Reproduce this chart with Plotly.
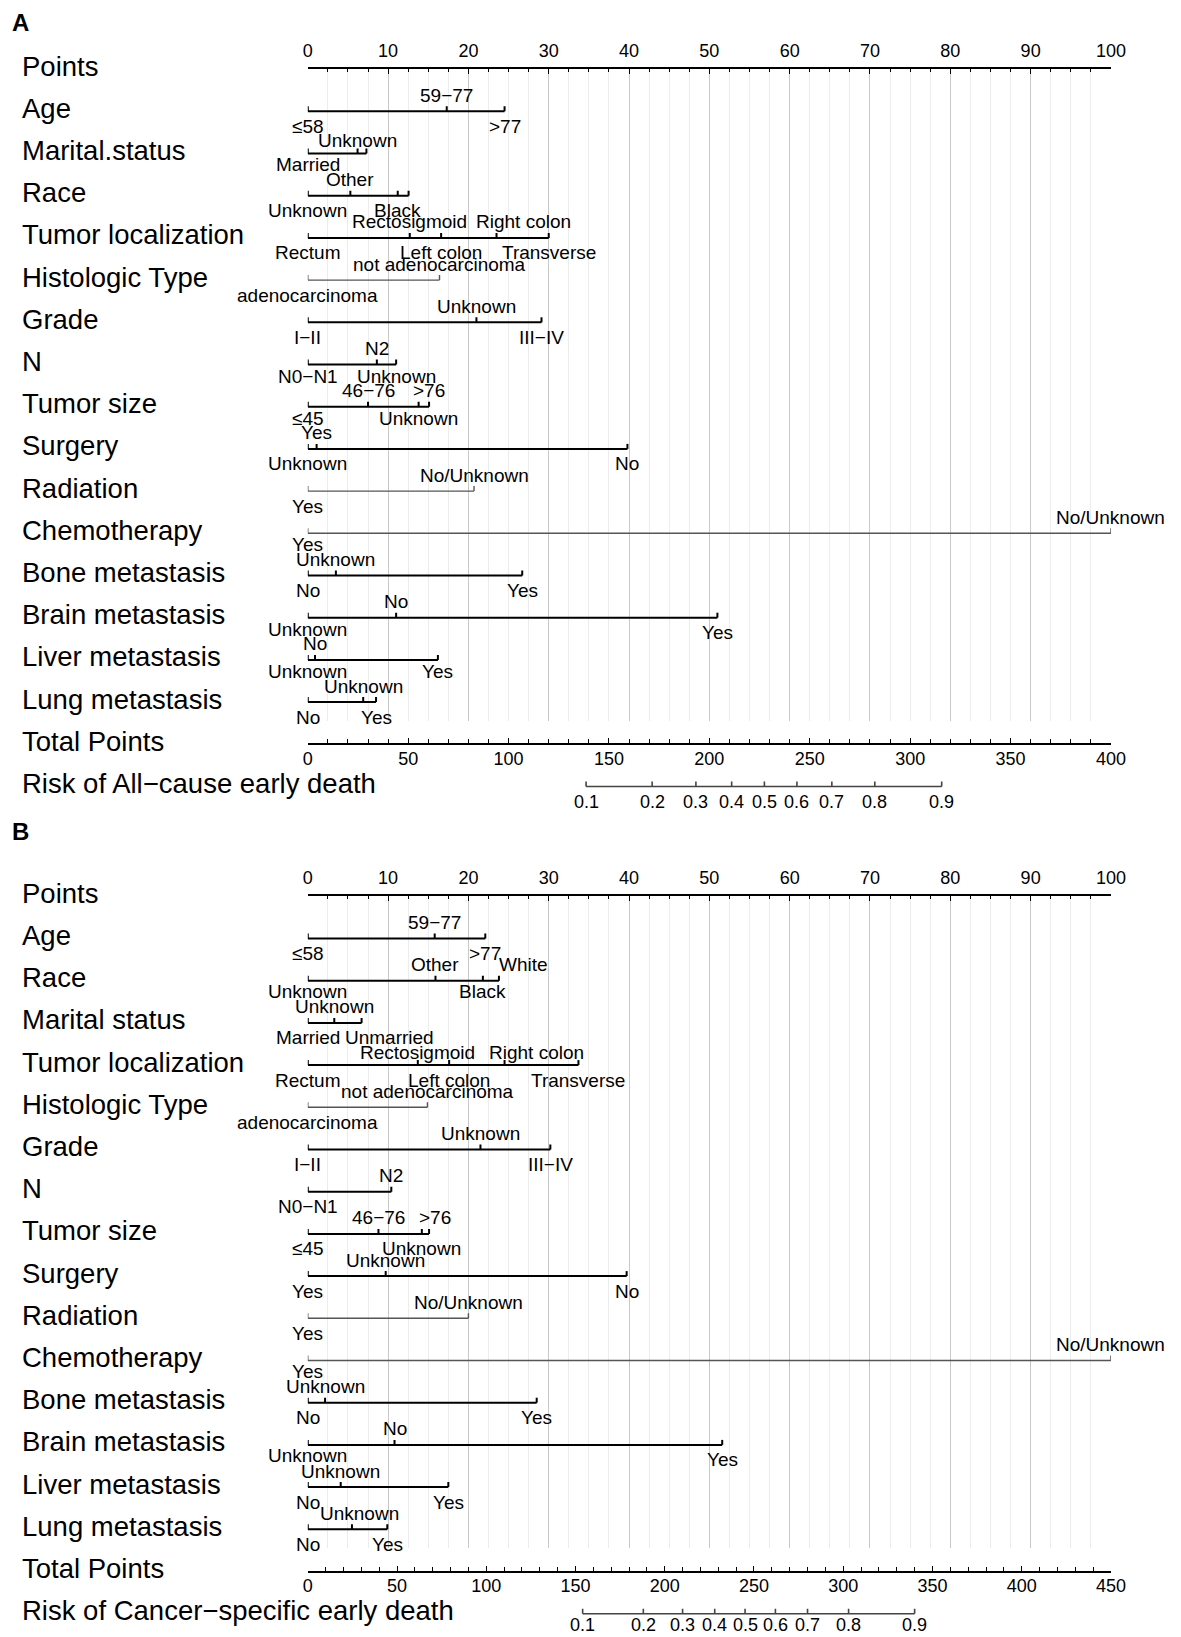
import plotly.graph_objects as go

W, H = 1181, 1637
FONT = "Liberation Sans, Arial, Helvetica, sans-serif"

# ------------------------- Panel A data -------------------------
A_RISK_TITLE = "Risk of All\u2212cause early death"
A_TOTAL_MAX = 400
A_RISK_LABELS = ["0.1", "0.2", "0.3", "0.4", "0.5", "0.6", "0.7", "0.8", "0.9"]
A_RISK_TOTAL = [138.6, 171.5, 193.3, 211.1, 227.4, 243.6, 261.0, 282.4, 315.7]

A_AGE_LV = ["\u226458", "59\u221277", ">77"]
A_AGE_PT = [0, 17.3, 24.5]
A_MARITAL_LV = ["Married", "Unknown", ""]
A_MARITAL_PT = [0, 6.2, 7.3]
A_RACE_LV = ["Unknown", "Other", "Black", ""]
A_RACE_PT = [0, 5.3, 11.2, 12.55]
A_LOC_LV = ["Rectum", "Rectosigmoid", "Left colon", "Right colon", "Transverse"]
A_LOC_PT = [0, 12.7, 16.6, 23.5, 30.0]
A_HIST_LV = ["adenocarcinoma", "not adenocarcinoma"]
A_HIST_PT = [0, 16.4]
A_GRADE_LV = ["I\u2212II", "Unknown", "III\u2212IV"]
A_GRADE_PT = [0, 21.0, 29.1]
A_N_LV = ["N0\u2212N1", "N2", "Unknown"]
A_N_PT = [0, 8.6, 11.0]
A_SIZE_LV = ["\u226445", "46\u221276", "Unknown", ">76"]
A_SIZE_PT = [0, 7.5, 13.8, 15.1]
A_SURG_LV = ["Unknown", "Yes", "No"]
A_SURG_PT = [0, 1.1, 39.8]
A_RAD_LV = ["Yes", "No/Unknown"]
A_RAD_PT = [0, 20.7]
A_CHEMO_LV = ["Yes", "No/Unknown"]
A_CHEMO_PT = [0, 100]
A_BONE_LV = ["No", "Unknown", "Yes"]
A_BONE_PT = [0, 3.5, 26.7]
A_BRAIN_LV = ["Unknown", "No", "Yes"]
A_BRAIN_PT = [0, 11.0, 51.0]
A_LIVER_LV = ["Unknown", "No", "Yes"]
A_LIVER_PT = [0, 0.9, 16.2]
A_LUNG_LV = ["No", "Unknown", "Yes"]
A_LUNG_PT = [0, 6.9, 8.5]

# ------------------------- Panel B data -------------------------
B_RISK_TITLE = "Risk of Cancer\u2212specific early death"
B_TOTAL_MAX = 450
B_RISK_LABELS = ["0.1", "0.2", "0.3", "0.4", "0.5", "0.6", "0.7", "0.8", "0.9"]
B_RISK_TOTAL = [154.0, 188.0, 210.0, 228.0, 245.0, 262.0, 280.0, 303.0, 340.0]

B_AGE_LV = ["\u226458", "59\u221277", ">77"]
B_AGE_PT = [0, 15.8, 22.1]
B_RACE_LV = ["Unknown", "Other", "Black", "White"]
B_RACE_PT = [0, 15.9, 21.8, 23.8]
B_MARITAL_LV = ["Married", "Unknown", "Unmarried"]
B_MARITAL_PT = [0, 3.3, 6.7]
B_LOC_LV = ["Rectum", "Rectosigmoid", "Left colon", "Right colon", "Transverse"]
B_LOC_PT = [0, 13.7, 17.6, 24.5, 33.7]
B_HIST_LV = ["adenocarcinoma", "not adenocarcinoma"]
B_HIST_PT = [0, 14.9]
B_GRADE_LV = ["I\u2212II", "Unknown", "III\u2212IV"]
B_GRADE_PT = [0, 21.5, 30.2]
B_N_LV = ["N0\u2212N1", "N2"]
B_N_PT = [0, 10.4]
B_SIZE_LV = ["\u226445", "46\u221276", "Unknown", ">76"]
B_SIZE_PT = [0, 8.8, 14.2, 15.1]
B_SURG_LV = ["Yes", "Unknown", "No"]
B_SURG_PT = [0, 9.7, 39.7]
B_RAD_LV = ["Yes", "No/Unknown"]
B_RAD_PT = [0, 20.0]
B_CHEMO_LV = ["Yes", "No/Unknown"]
B_CHEMO_PT = [0, 100]
B_BONE_LV = ["No", "Unknown", "Yes"]
B_BONE_PT = [0, 2.15, 28.5]
B_BRAIN_LV = ["Unknown", "No", "Yes"]
B_BRAIN_PT = [0, 10.8, 51.6]
B_LIVER_LV = ["No", "Unknown", "Yes"]
B_LIVER_PT = [0, 4.1, 17.5]
B_LUNG_LV = ["No", "Unknown", "Yes"]
B_LUNG_PT = [0, 5.5, 9.9]

# label placement per level: a = above line, b = below line, - = no label
A_ROWS = [
    ("Age", A_AGE_LV, A_AGE_PT, "bab"),
    ("Marital.status", A_MARITAL_LV, A_MARITAL_PT, "ba-"),
    ("Race", A_RACE_LV, A_RACE_PT, "bab-"),
    ("Tumor localization", A_LOC_LV, A_LOC_PT, "babab"),
    ("Histologic Type", A_HIST_LV, A_HIST_PT, "ba"),
    ("Grade", A_GRADE_LV, A_GRADE_PT, "bab"),
    ("N", A_N_LV, A_N_PT, "bab"),
    ("Tumor size", A_SIZE_LV, A_SIZE_PT, "baba"),
    ("Surgery", A_SURG_LV, A_SURG_PT, "bab"),
    ("Radiation", A_RAD_LV, A_RAD_PT, "ba"),
    ("Chemotherapy", A_CHEMO_LV, A_CHEMO_PT, "ba"),
    ("Bone metastasis", A_BONE_LV, A_BONE_PT, "bab"),
    ("Brain metastasis", A_BRAIN_LV, A_BRAIN_PT, "bab"),
    ("Liver metastasis", A_LIVER_LV, A_LIVER_PT, "bab"),
    ("Lung metastasis", A_LUNG_LV, A_LUNG_PT, "bab"),
]
B_ROWS = [
    ("Age", B_AGE_LV, B_AGE_PT, "bab"),
    ("Race", B_RACE_LV, B_RACE_PT, "baba"),
    ("Marital status", B_MARITAL_LV, B_MARITAL_PT, "bab"),
    ("Tumor localization", B_LOC_LV, B_LOC_PT, "babab"),
    ("Histologic Type", B_HIST_LV, B_HIST_PT, "ba"),
    ("Grade", B_GRADE_LV, B_GRADE_PT, "bab"),
    ("N", B_N_LV, B_N_PT, "ba"),
    ("Tumor size", B_SIZE_LV, B_SIZE_PT, "baba"),
    ("Surgery", B_SURG_LV, B_SURG_PT, "bab"),
    ("Radiation", B_RAD_LV, B_RAD_PT, "ba"),
    ("Chemotherapy", B_CHEMO_LV, B_CHEMO_PT, "ba"),
    ("Bone metastasis", B_BONE_LV, B_BONE_PT, "bab"),
    ("Brain metastasis", B_BRAIN_LV, B_BRAIN_PT, "bab"),
    ("Liver metastasis", B_LIVER_LV, B_LIVER_PT, "bab"),
    ("Lung metastasis", B_LUNG_LV, B_LUNG_PT, "bab"),
]

# ------------------------- styling / layout -------------------------
THIN_ROWS = {"Histologic Type", "Radiation", "Chemotherapy"}
# labels that the original figure moves sideways off their tick (points units)
LABEL_NUDGE = {
    ("A", "Tumor localization", "Right colon"): 3.4,
    ("B", "Tumor localization", "Right colon"): 4.0,
    ("B", "Race", "White"): 3.0,
    ("B", "Marital status", "Unmarried"): 3.5,
    ("B", "Tumor size", ">76"): 0.8,
    ("B", "Lung metastasis", "Unknown"): 0.9,
}
# labels that sit closer to their line than the default (vertical px shift)
LABEL_VSHIFT = {
    ("A", "Marital.status", "Married"): -11,
    ("A", "Marital.status", "Unknown"): 13,
    ("A", "N", "N0\u2212N1"): -12,
    ("A", "N", "Unknown"): -12,
    ("A", "Tumor size", "\u226445"): -12,
    ("A", "Tumor size", "Unknown"): -12,
    ("A", "Chemotherapy", "Yes"): -11,
    ("A", "Brain metastasis", "Unknown"): -12,
    ("A", "Liver metastasis", "Unknown"): -12,
    ("A", "Liver metastasis", "Yes"): -12,
    ("B", "Race", "Unknown"): -11,
    ("B", "Race", "Black"): -11,
    ("B", "Tumor localization", "Rectosigmoid"): 13,
    ("B", "Tumor localization", "Right colon"): 13,
    ("B", "Chemotherapy", "Yes"): -11,
    ("B", "Brain metastasis", "Unknown"): -11,
}

X0_PX, X1_PX = 308, 1125
ROW_H = 42.2
TICK_R = 5.0 / ROW_H
LABEL_X_PX = 15.5
ABOVE_SHIFT, BELOW_SHIFT = 16, -15

fig = go.Figure()
annotations = []
axes = {}


def axkey(a):
    return ("xaxis" if a[0] == "x" else "yaxis") + a[1:]


def build(letter, rows, total_max, risk_lab, risk_pos, risk_title, top_px, ids,
          letter_y, risk_shift):
    xa, ya, xb, yb = ids
    n = len(rows)
    last = n + 0.45
    bottom_r = n + 2.5

    def ypx(r):
        return top_px + r * ROW_H

    def pap(px):
        return max(0.0, 1 - px / H)

    dom_x = [X0_PX / W, X1_PX / W]
    tickfont = dict(size=18, family=FONT, color="black")
    axes[axkey(xa)] = dict(
        domain=dom_x, range=[-1e-6, 100 + 1e-6], anchor=ya, side="top",
        showline=True, linecolor="black", linewidth=2,
        ticks="inside", ticklen=5, tickwidth=1.3, tickcolor="black",
        tick0=0, dtick=10, tickfont=tickfont, ticklabelstandoff=3,
        showgrid=True, gridcolor="#c9c9c9", gridwidth=1.4, zeroline=False,
        minor=dict(tick0=0, dtick=2.5, ticks="inside", ticklen=3, tickwidth=1.1,
                   tickcolor="black", showgrid=True, gridcolor="#ececec", gridwidth=1),
        fixedrange=True,
    )
    axes[axkey(ya)] = dict(domain=[pap(ypx(last)), pap(ypx(0))], range=[last, 0],
                           visible=False, fixedrange=True)
    axes[axkey(xb)] = dict(
        domain=dom_x, range=[-1e-6, total_max + 1e-6], anchor="free",
        position=pap(ypx(n + 1)), side="bottom",
        showline=True, linecolor="black", linewidth=2,
        ticks="inside", ticklen=5, tickwidth=1.3, tickcolor="black",
        tick0=0, dtick=50, tickfont=tickfont, ticklabelstandoff=-2,
        showgrid=False, zeroline=False,
        minor=dict(tick0=0, dtick=10, ticks="inside", ticklen=4, tickwidth=1.1, tickcolor="black"),
        fixedrange=True,
    )
    axes[axkey(yb)] = dict(domain=[pap(ypx(bottom_r)), pap(ypx(last))], range=[bottom_r, last],
                           visible=False, fixedrange=True)

    lab_font = dict(size=19, family=FONT, color="black")
    for r, (name, lvs, pts, sides) in enumerate(rows, start=1):
        xs = [min(pts), max(pts), None]
        ys = [r, r, None]
        for p in pts:
            xs += [p, p, None]
            ys += [r, r - TICK_R, None]
        thin = name in THIN_ROWS
        fig.add_trace(go.Scatter(
            x=xs, y=ys, xaxis=xa, yaxis=ya, mode="lines", hoverinfo="skip",
            line=dict(color="#555555" if thin else "black", width=1.4 if thin else 2),
        ))
        for lv, p, s in zip(lvs, pts, sides):
            if s == "-" or not lv:
                continue
            key = (letter, name, lv)
            annotations.append(dict(
                x=min(100, p + LABEL_NUDGE.get(key, 0)), y=r,
                xref=xa, yref=ya, text=lv, showarrow=False,
                xanchor="center", yanchor="middle",
                yshift=LABEL_VSHIFT.get(key, ABOVE_SHIFT if s == "a" else BELOW_SHIFT),
                font=lab_font,
            ))

    # risk axis drawn on the total-points scale
    rr = n + 2
    xs = [min(risk_pos), max(risk_pos), None]
    ys = [rr, rr, None]
    for p in risk_pos:
        xs += [p, p, None]
        ys += [rr, rr - TICK_R, None]
    fig.add_trace(go.Scatter(x=xs, y=ys, xaxis=xb, yaxis=yb, mode="lines",
                             hoverinfo="skip", line=dict(color="#444444", width=1.6)))
    for lab, p in zip(risk_lab, risk_pos):
        annotations.append(dict(x=p, y=rr, xref=xb, yref=yb, text=lab, showarrow=False,
                                xanchor="center", yanchor="middle", yshift=risk_shift,
                                font=tickfont))

    # row titles
    names = ["Points"] + [r[0] for r in rows] + ["Total Points", risk_title]
    for r, nm in enumerate(names):
        annotations.append(dict(
            x=LABEL_X_PX / W, xref="paper", y=r, yref=ya if r <= n else yb,
            text=nm, showarrow=False, xanchor="left", yanchor="middle", yshift=3,
            font=dict(size=27.5, family=FONT, color="black"),
        ))

    annotations.append(dict(x=5 / W, xref="paper", y=1 - letter_y / H, yref="paper",
                            text="<b>%s</b>" % letter, showarrow=False,
                            xanchor="left", yanchor="middle",
                            font=dict(size=24, family=FONT, color="black")))


build("A", A_ROWS, A_TOTAL_MAX, A_RISK_LABELS, A_RISK_TOTAL, A_RISK_TITLE, 69.1,
      ("x", "y", "x2", "y2"), 23, -15)
build("B", B_ROWS, B_TOTAL_MAX, B_RISK_LABELS, B_RISK_TOTAL, B_RISK_TITLE, 896.3,
      ("x3", "y3", "x4", "y4"), 831, -11)

fig.update_layout(
    width=W, height=H, margin=dict(l=0, r=0, t=0, b=0),
    paper_bgcolor="white", plot_bgcolor="rgba(0,0,0,0)",
    showlegend=False, annotations=annotations, **axes,
)

fig.write_html(
    "out.html",
    config={"displayModeBar": False},
    post_script="document.body.style.margin='0px';document.body.style.overflow='hidden';",
)
